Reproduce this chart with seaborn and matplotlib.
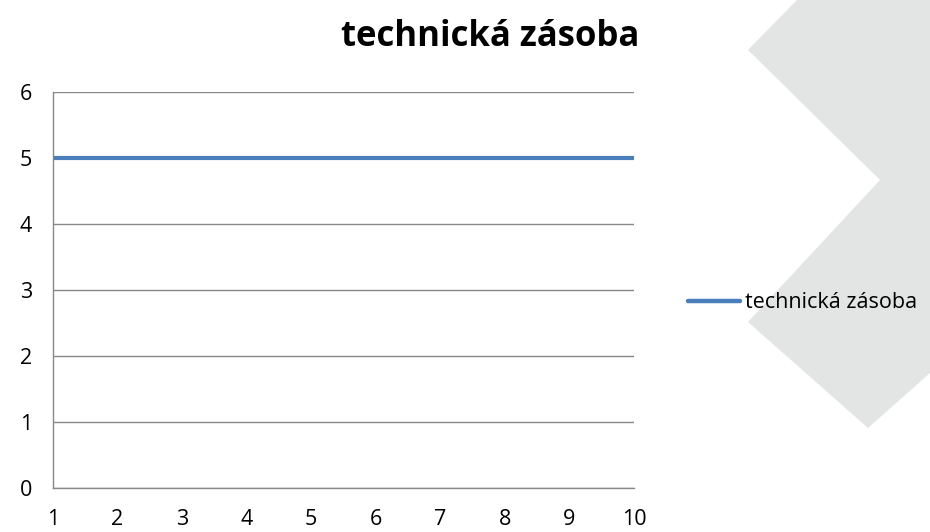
import matplotlib
matplotlib.use("Agg")
import matplotlib.pyplot as plt
import seaborn as sns
import pandas as pd
from matplotlib.patches import Polygon
from matplotlib.lines import Line2D

periods = [1, 2, 3, 4, 5, 6, 7, 8, 9, 10]
technicka_zasoba = [5, 5, 5, 5, 5, 5, 5, 5, 5, 5]
y_ticks = [0, 1, 2, 3, 4, 5, 6]
series_name = "technická zásoba"
title = "technická zásoba"

sns.set_theme(style="white")
plt.rcParams['font.family'] = ['Open Sans', 'DejaVu Sans']
plt.rcParams['text.color'] = '#000000'

W, H = 930, 532
fig = plt.figure(figsize=(W / 100, H / 100), dpi=100)

# decorative background chevron (in pixel coords)
pts = [(797, 0), (748, 50), (880, 180), (748, 322), (868, 428), (930, 373), (930, 0)]
poly = Polygon([(x / W, 1 - y / H) for x, y in pts], closed=True,
               transform=fig.transFigure, facecolor="#e3e4e4", edgecolor="none", zorder=0)
fig.patches.append(poly)

ax = fig.add_axes([53 / W, 1 - 488 / H, (634 - 53) / W, (488 - 92) / H])
ax.set_facecolor("none")

df = pd.DataFrame({"x": periods, "y": technicka_zasoba, "s": series_name})
sns.lineplot(data=df, x="x", y="y", hue="s", palette=["#4a7ebb"], linewidth=3.0,
             ax=ax, legend=False, solid_capstyle="butt")

ax.set_xlim(periods[0], periods[-1])
ax.set_ylim(y_ticks[0], y_ticks[-1])
ax.set_xticks(periods)
ax.set_yticks(y_ticks)
ax.set_xlabel("")
ax.set_ylabel("")
ax.grid(axis="y", color="#888888", linewidth=1.0)
ax.grid(axis="x", visible=False)
for side in ["top", "right"]:
    ax.spines[side].set_visible(False)
for side in ["left", "bottom"]:
    ax.spines[side].set_visible(True)
    ax.spines[side].set_color("#888888")
    ax.spines[side].set_linewidth(1.0)
ax.tick_params(axis="both", which="major", labelsize=15.5, colors="#888888",
               labelcolor="#000000", length=6, width=1.0, direction="out")
ax.tick_params(axis="x", pad=9)
ax.tick_params(axis="y", pad=9)

fig.text(490 / W, 1 - 37 / H, title, ha="center", va="center",
         fontsize=25, fontweight="bold", color="#000000")

# legend
handle = Line2D([0], [0], color="#4a7ebb", linewidth=3.2, solid_capstyle="round")
leg = fig.legend([handle], [series_name], loc="center left",
                 bbox_to_anchor=(688 / W, 1 - 303 / H), frameon=False, fontsize=15.5,
                 handlelength=2.4, handletextpad=0.25, borderaxespad=0, borderpad=0)
for t in leg.get_texts():
    t.set_color("#000000")

fig.savefig("out.png", dpi=100)
